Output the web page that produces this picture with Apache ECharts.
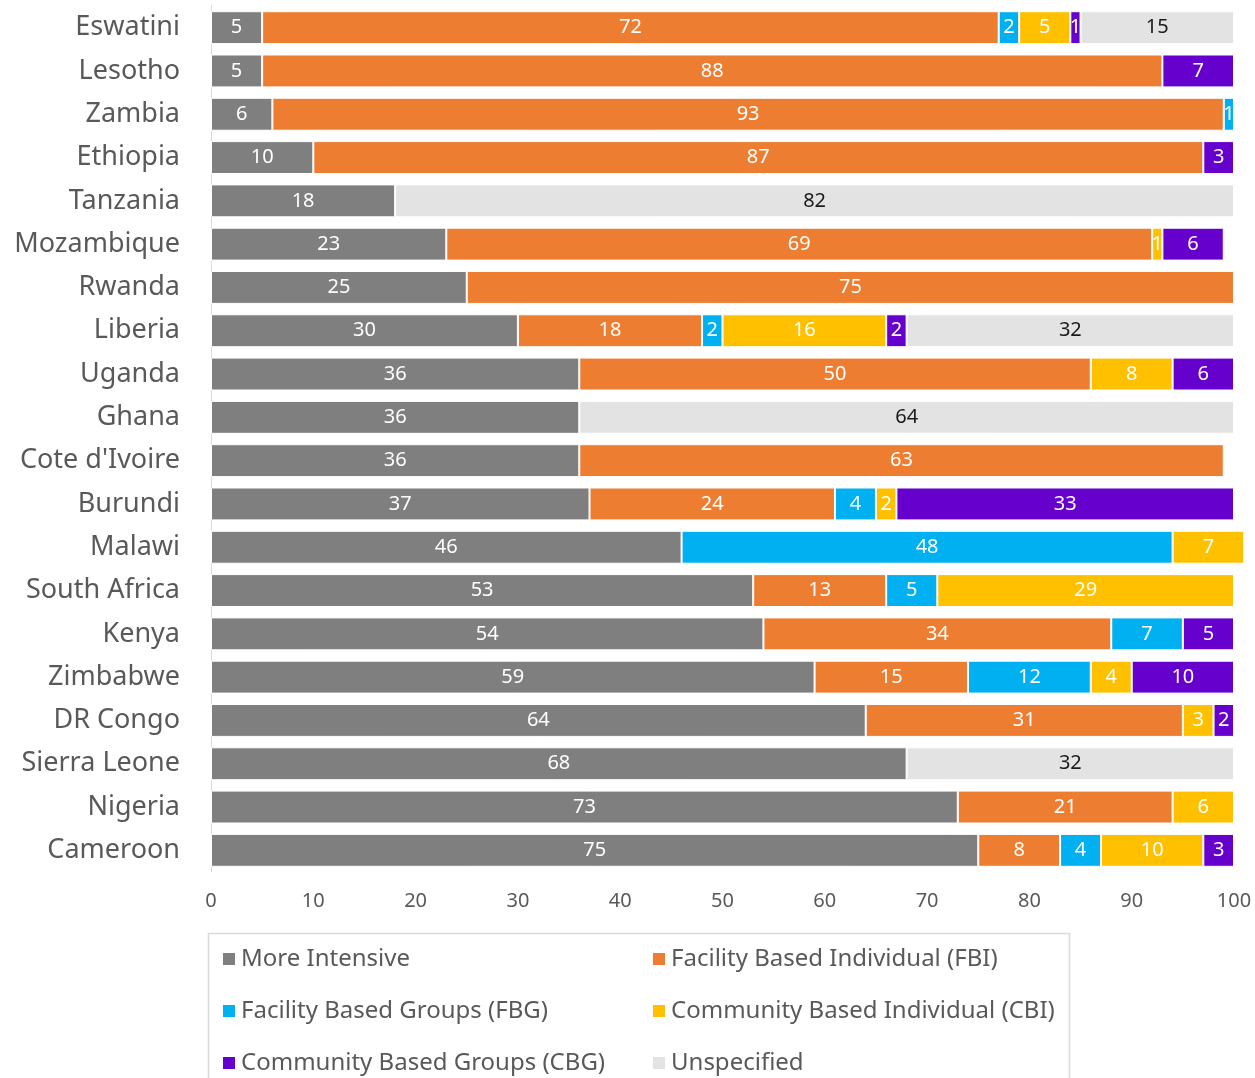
<!DOCTYPE html>
<html>
<head>
<meta charset="utf-8">
<title>Service delivery models by country</title>
<script src="https://cdn.jsdelivr.net/npm/echarts@6/dist/echarts.min.js"></script>
<style>
  html, body { margin: 0; padding: 0; background: #fff; }
  #main { width: 1255px; height: 1078px; }
</style>
</head>
<body>
<div id="main"></div>
<script>
// countries, top to bottom
var countries = ['Eswatini', 'Lesotho', 'Zambia', 'Ethiopia', 'Tanzania', 'Mozambique', 'Rwanda',
  'Liberia', 'Uganda', 'Ghana', "Cote d'Ivoire", 'Burundi', 'Malawi', 'South Africa', 'Kenya',
  'Zimbabwe', 'DR Congo', 'Sierra Leone', 'Nigeria', 'Cameroon'];

// shares (%) per model, null = not reported
var moreIntensive = [5, 5, 6, 10, 18, 23, 25, 30, 36, 36, 36, 37, 46, 53, 54, 59, 64, 68, 73, 75];
var fbi = [72, 88, 93, 87, null, 69, 75, 18, 50, null, 63, 24, null, 13, 34, 15, 31, null, 21, 8];
var fbg = [2, null, 1, null, null, null, null, 2, null, null, null, 4, 48, 5, 7, 12, null, null, null, 4];
var cbi = [5, null, null, null, null, 1, null, 16, 8, null, null, 2, 7, 29, null, 4, 3, null, 6, 10];
var cbg = [1, 7, null, 3, null, 6, null, 2, 6, null, null, 33, null, null, 5, 10, 2, null, null, 3];
var unspecified = [15, null, null, null, 82, null, null, 32, null, 64, null, null, null, null, null, null, null, 32, null, null];

var xTicks = [0, 10, 20, 30, 40, 50, 60, 70, 80, 90, 100];

var chart = echarts.init(document.getElementById('main'));
var font = 'Noto Sans';

function makeSeries(name, data, color, labelColor) {
    return {
        name: name,
        type: 'bar',
        stack: 'total',
        data: data,
        barCategoryGap: '24%',
        clip: false,
        itemStyle: { color: color, borderColor: '#ffffff', borderWidth: 1 },
        label: {
            show: true,
            position: 'inside',
            color: labelColor,
            fontFamily: font,
            fontSize: 20,
            formatter: function (p) { return p.value == null ? '' : p.value; }
        },
        emphasis: { disabled: true }
    };
}

var legendText = { color: '#595959', fontFamily: font, fontSize: 24, lineHeight: 30 };

var option = {
    animation: false,
    backgroundColor: '#ffffff',
    grid: { left: 211, right: 21, top: 6, height: 866, containLabel: false },
    xAxis: {
        type: 'value',
        min: 0,
        max: 100,
        interval: 10,
        axisLine: { show: false },
        axisTick: { show: false },
        splitLine: { show: false },
        axisLabel: {
            color: '#595959', fontFamily: font, fontSize: 20, margin: 19,
            formatter: function (v) { return xTicks.indexOf(v) >= 0 ? v : ''; }
        }
    },
    yAxis: {
        type: 'category',
        inverse: true,
        data: countries,
        axisLine: { show: true, lineStyle: { color: '#d9d9d9', width: 1 } },
        axisTick: { show: false },
        axisLabel: { color: '#595959', fontFamily: font, fontSize: 27, margin: 31 }
    },
    legend: [
        {
            orient: 'vertical',
            left: 216,
            top: 939,
            height: 300,
            itemWidth: 14,
            itemHeight: 14,
            itemGap: 22,
            icon: 'rect',
            data: ['More Intensive', 'Facility Based Groups (FBG)', 'Community Based Groups (CBG)'],
            textStyle: legendText
        },
        {
            orient: 'vertical',
            left: 646,
            top: 939,
            height: 300,
            itemWidth: 14,
            itemHeight: 14,
            itemGap: 22,
            icon: 'rect',
            data: ['Facility Based Individual (FBI)', 'Community Based Individual (CBI)', 'Unspecified'],
            textStyle: legendText
        }
    ],
    graphic: [
        {
            type: 'rect',
            shape: { x: 208.5, y: 933.5, width: 861, height: 160 },
            style: { fill: 'none', stroke: '#d9d9d9', lineWidth: 1.5 },
            silent: true
        }
    ],
    series: [
        makeSeries('More Intensive', moreIntensive, '#7f7f7f', '#ffffff'),
        makeSeries('Facility Based Individual (FBI)', fbi, '#ed7d31', '#ffffff'),
        makeSeries('Facility Based Groups (FBG)', fbg, '#00b0f0', '#ffffff'),
        makeSeries('Community Based Individual (CBI)', cbi, '#ffc000', '#ffffff'),
        makeSeries('Community Based Groups (CBG)', cbg, '#6600cc', '#ffffff'),
        makeSeries('Unspecified', unspecified, '#e3e3e3', '#1a1a1a')
    ]
};

chart.setOption(option);
</script>
</body>
</html>
